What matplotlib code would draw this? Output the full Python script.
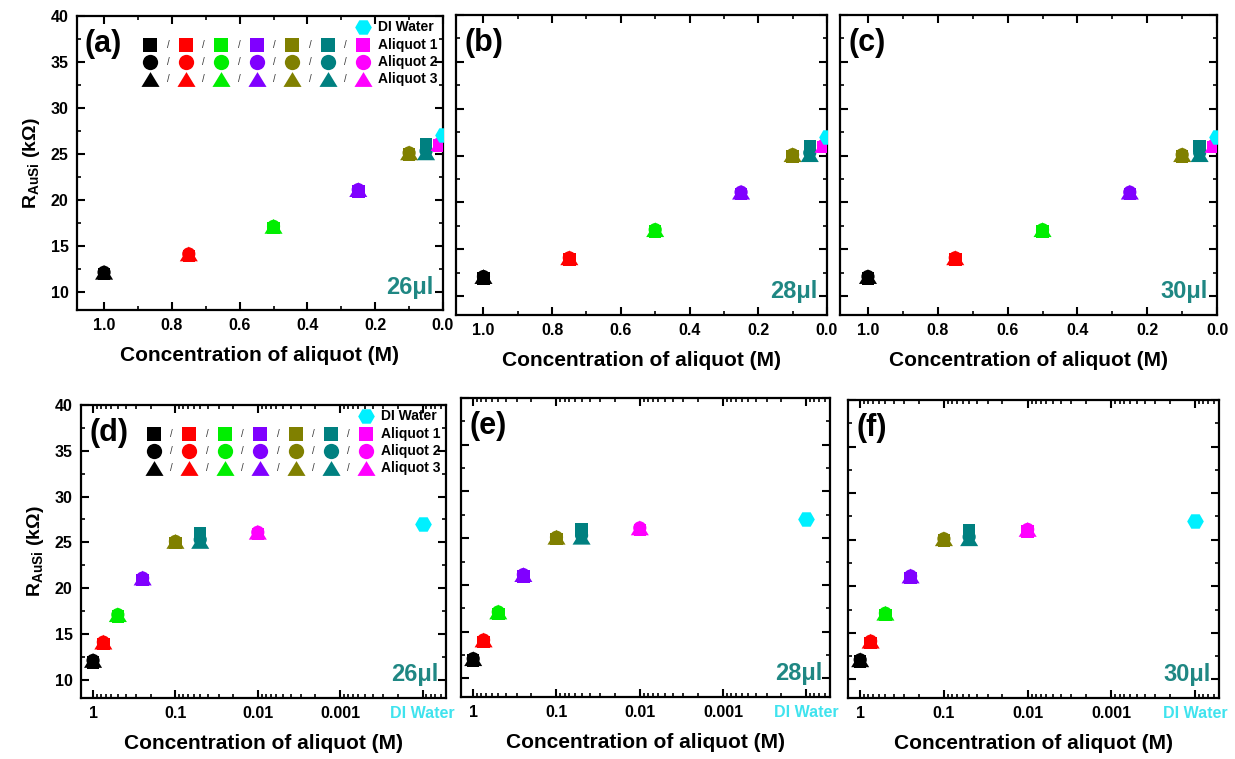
import matplotlib
matplotlib.use("Agg")
import matplotlib.pyplot as plt
from matplotlib.ticker import MultipleLocator, FixedLocator, LogLocator, NullFormatter

plt.rcParams['font.family'] = ['Liberation Sans', 'DejaVu Sans']
plt.rcParams['font.weight'] = 'bold'
plt.rcParams['axes.labelweight'] = 'bold'
plt.rcParams['mathtext.fontset'] = 'custom'
plt.rcParams['mathtext.rm'] = 'Liberation Sans:bold'
plt.rcParams['mathtext.bf'] = 'Liberation Sans:bold'
plt.rcParams['mathtext.it'] = 'Liberation Sans:bold'

# dati
concentration = [1.0, 0.75, 0.5, 0.25, 0.1, 0.05, 0.01]
aliquot_1 = [11.9, 13.9, 16.9, 20.9, 24.9, 26.0, 25.9]
aliquot_2 = [12.1, 14.1, 17.1, 21.1, 25.1, 25.3, 26.1]
aliquot_3 = [12.1, 14.1, 17.1, 21.1, 25.1, 25.1, 26.1]
di_water = 27.0
di_lin = 0.0      # posizione DI water sull'asse lineare
di_log = 1e-4     # posizione DI water sull'asse log

colors = ['#000000', '#ff0000', '#00ee00', '#8000ff', '#808000', '#008080', '#ff00ff']
cyan = '#00f0ff'
teal_txt = '#1f8783'

volumes = ['26\u03bcl', '28\u03bcl', '30\u03bcl']
tags_top = ['(a)', '(b)', '(c)']
tags_bot = ['(d)', '(e)', '(f)']
log_ticks = [1, 0.1, 0.01, 0.001, 1e-4]
log_labels = ['1', '0.1', '0.01', '0.001', 'DI Water']

tri = [(0, 0.82), (-1, -0.82), (1, -0.82), (0, 0.82)]

rects_top = [[0.0623, 0.5916, 0.2964, 0.3874],
             [0.3692, 0.5850, 0.3004, 0.3953],
             [0.6802, 0.5850, 0.3053, 0.3953]]
rects_bot = [[0.0656, 0.0804, 0.2955, 0.3860],
             [0.3733, 0.0817, 0.2988, 0.3939],
             [0.6866, 0.0804, 0.3004, 0.3926]]


def style_axes(ax, show_y):
    for sp in ax.spines.values():
        sp.set_linewidth(1.6)
    ax.set_ylim(8, 40)
    ax.yaxis.set_major_locator(MultipleLocator(5))
    ax.yaxis.set_minor_locator(MultipleLocator(2.5))
    ax.tick_params(which='both', direction='in', top=True, right=True, labelsize=11.5, pad=6)
    ax.tick_params(which='major', length=6, width=1.5)
    ax.tick_params(which='minor', length=3, width=1.2)
    if not show_y:
        ax.set_yticklabels([])
    else:
        ax.set_ylabel('R$_{AuSi}$ (k\u03a9)', fontsize=14, labelpad=6)
    for lab in ax.get_xticklabels() + ax.get_yticklabels():
        lab.set_fontweight('bold')
    ax.set_xlabel('Concentration of aliquot (M)', fontsize=15, labelpad=9)


def draw_points(ax, xs, xdi):
    ax.scatter(xs, aliquot_1, s=9 ** 2, c=colors, marker='s', linewidths=0, zorder=3)
    ax.scatter(xs, aliquot_2, s=9.5 ** 2, c=colors, marker='o', linewidths=0, zorder=4)
    ax.scatter(xs, aliquot_3, s=13 ** 2, c=colors, marker=tri, linewidths=0, zorder=5)
    ax.scatter([xdi], [di_water], s=12 ** 2, c=cyan, marker='H', linewidths=0, zorder=6)


def draw_legend(ax):
    x0, dx = 0.2, 0.097
    rows = [0.901, 0.843, 0.785]
    marks = [('s', 10), ('o', 11), (tri, 13)]
    tr = ax.transAxes
    ax.scatter([x0 + 6 * dx], [0.963], s=12 ** 2, c=cyan, marker='H', linewidths=0,
               transform=tr, clip_on=False, zorder=6)
    ax.text(x0 + 6 * dx + 0.04, 0.963, 'DI Water', transform=tr, fontsize=10,
            va='center', ha='left', fontweight='bold')
    for r, (y, (m, ms)) in enumerate(zip(rows, marks)):
        for j, c in enumerate(colors):
            ax.scatter([x0 + j * dx], [y], s=ms ** 2, c=c, marker=m, linewidths=0,
                       transform=tr, clip_on=False, zorder=6)
            if j < len(colors) - 1:
                ax.text(x0 + (j + 0.5) * dx, y, '/', transform=tr, fontsize=7,
                        fontweight='normal', color='#333333', va='center', ha='center')
        ax.text(x0 + 6 * dx + 0.04, y, 'Aliquot %d' % (r + 1), transform=tr,
                fontsize=10, va='center', ha='left', fontweight='bold')


fig = plt.figure(figsize=(12.35, 7.59), dpi=100)

for k in range(3):
    ax = fig.add_axes(rects_top[k])
    draw_points(ax, concentration, di_lin)
    ax.set_xlim(1.08, 0.0)
    ax.xaxis.set_major_locator(MultipleLocator(0.2))
    ax.xaxis.set_minor_locator(MultipleLocator(0.1))
    ax.xaxis.set_major_formatter(matplotlib.ticker.FormatStrFormatter('%.1f'))
    style_axes(ax, k == 0)
    ax.text(0.022, 0.905, tags_top[k], transform=ax.transAxes, fontsize=22,
            fontweight='bold', va='center', ha='left')
    ax.text(0.975, 0.055, volumes[k], transform=ax.transAxes, fontsize=17,
            fontweight='bold', color=teal_txt, ha='right', va='baseline')
    if k == 0:
        draw_legend(ax)

for k in range(3):
    ax = fig.add_axes(rects_bot[k])
    draw_points(ax, concentration, di_log)
    ax.set_xscale('log')
    ax.set_xlim(1.4, 5.2e-5)
    ax.xaxis.set_major_locator(FixedLocator(log_ticks))
    ax.set_xticklabels(log_labels)
    ax.xaxis.set_minor_locator(LogLocator(base=10, subs=range(2, 10), numticks=20))
    ax.xaxis.set_minor_formatter(NullFormatter())
    style_axes(ax, k == 0)
    ax.get_xticklabels()[-1].set_color('#3fe3ee')
    ax.text(0.022, 0.905, tags_bot[k], transform=ax.transAxes, fontsize=22,
            fontweight='bold', va='center', ha='left')
    ax.text(0.978, 0.058, volumes[k], transform=ax.transAxes, fontsize=17,
            fontweight='bold', color=teal_txt, ha='right', va='baseline')
    if k == 0:
        draw_legend(ax)

fig.savefig('out.png', dpi=100)
